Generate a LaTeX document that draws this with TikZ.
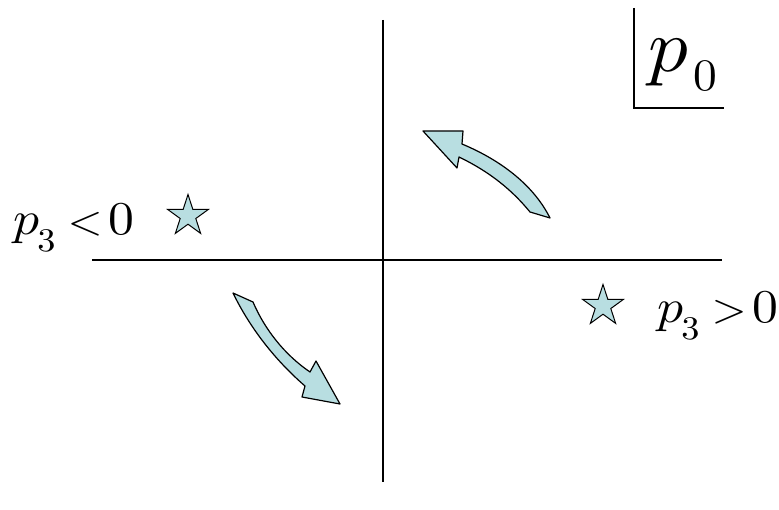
\documentclass[tikz,border=0pt]{standalone}
\usetikzlibrary{shapes.geometric}
\definecolor{arrowfill}{RGB}{184,222,225}
\tikzset{
  axis/.style={line width=1.3pt, black},
  bentarrow/.style={fill=arrowfill, draw=black, line width=1.2pt, line join=round},
  starmark/.style={star, star points=5, star point ratio=2.618, minimum size=43pt, inner sep=0pt, fill=arrowfill, draw=black, line width=1pt},
  lbl/.style={inner sep=0pt, anchor=base west, transform shape, xscale=1.1}
}
% p_3 <rel> 0, pieces placed at fixed offsets
\newcommand{\pthree}[1]{\rlap{\scalebox{4.7}{$p$}}\hspace{22pt}\rlap{\raisebox{-17pt}{\scalebox{3.3}{3}}}\hspace{27.5pt}\rlap{\scalebox{4.1}{$#1$}}\hspace{37pt}\scalebox{4.7}{0}}
\begin{document}
\begin{tikzpicture}[x=1pt,y=-1pt]
\useasboundingbox (0,0) rectangle (779,510);
% axes
\coordinate (vtop) at (383,20);
\coordinate (vbot) at (383,482);
\coordinate (hl) at (92,260);
\coordinate (hr) at (722,260);
\draw[axis] (vtop) -- (vbot);
\draw[axis] (hl) -- (hr);
% p0 corner
\coordinate (c1) at (634,8);
\coordinate (c2) at (634,108);
\coordinate (c3) at (724,108);
\draw[axis] (c1) -- (c2) -- (c3);
\node[lbl, xscale=0.96] (pzero) at (648,72) {\rlap{\scalebox{7.5}{$p$}}\hspace{43pt}\raisebox{-19pt}{\scalebox{4.5}{0}}};
% labels
\node[lbl] (pneg) at (13,235) {\pthree{<}};
\node[lbl] (ppos) at (657,323) {\pthree{>}};
% stars
\node[starmark] (s1) at (188,216) {};
\node[starmark] (s2) at (603,306) {};
% upper arrow
\draw[bentarrow] (423,131) -- (463,131) -- (462,144) .. controls (505,162) and (535,188) .. (550,218) -- (530,212) .. controls (512,190) and (490,172) .. (459,157) -- (457,168) -- cycle;
% lower arrow
\draw[bentarrow] (233,293) -- (253,302) .. controls (265,330) and (285,355) .. (310,372) -- (316,361) -- (340,404) -- (302,397) -- (305,386) .. controls (275,360) and (250,328) .. (233,293) -- cycle;
\end{tikzpicture}
\end{document}
